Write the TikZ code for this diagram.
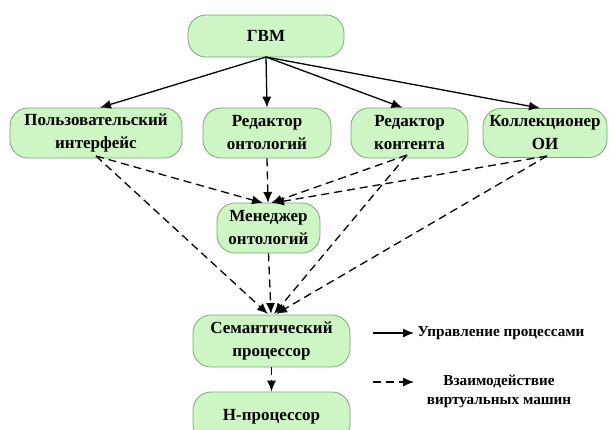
\documentclass[tikz,border=0pt]{standalone}
\usepackage{fontspec}
\setmainfont{Liberation Serif}
\usetikzlibrary{arrows.meta,calc}
\definecolor{boxfill}{RGB}{205,246,196}
\definecolor{boxline}{RGB}{125,165,120}
\tikzset{
  box/.style={draw=boxline, fill=boxfill, line width=0.8pt, rounded corners=18pt,
    align=center, inner sep=0pt, font=\fontsize{17}{23}\selectfont\bfseries},
  ctrl/.style={line width=1.3pt, -{Latex[length=11pt,width=9pt]}},
  inter/.style={line width=1.3pt, dash pattern=on 8pt off 5pt, -{Latex[length=11pt,width=9pt]}},
  legtext/.style={font=\fontsize{15.2}{19}\selectfont\bfseries, align=center, inner sep=0pt}
}
\begin{document}
\begin{tikzpicture}[x=1pt,y=-1pt]
\useasboundingbox (0,0) rectangle (609,429);
\node[box, minimum width=156pt, minimum height=42pt] (g) at (266,36) {ГВМ};
\node[box, minimum width=172pt, minimum height=50pt] (ui) at (96,133) {Пользовательский\\интерфейс};
\node[box, minimum width=128pt, minimum height=50pt] (ro) at (267,133) {Редактор\\онтологий};
\node[box, minimum width=117pt, minimum height=50pt] (rk) at (409.5,133) {Редактор\\контента};
\node[box, minimum width=124pt, minimum height=49pt] (ko) at (545,133) {Коллекционер\\ОИ};
\node[box, minimum width=103pt, minimum height=50pt] (mo) at (268.5,228) {Менеджер\\онтологий};
\node[box, minimum width=157pt, minimum height=52pt] (sp) at (271.5,341) {Семантический\\процессор};
\node[box, minimum width=157pt, minimum height=50pt] (hp) at (271.5,417) {Н-процессор};
\coordinate (gs) at (266,57);
\draw[ctrl] (gs) -- ([xshift=4pt]ui.north);
\draw[ctrl] (gs) -- (ro.north);
\draw[ctrl] (gs) -- ([xshift=-7pt]rk.north);
\draw[ctrl] (gs) -- ([xshift=-5pt]ko.north);
\coordinate (mt) at (268,203);
\coordinate (st) at (271,314);
\coordinate (uis) at (96,156);
\coordinate (rks) at (407,155);
\coordinate (kos) at (547,156);
\draw[inter] (uis) -- ([xshift=-5pt]mt);
\draw[inter] (ro.south) -- (mt);
\draw[inter] (rks) -- ([xshift=3pt]mt);
\draw[inter] (kos) -- ([xshift=5pt]mt);
\draw[inter] (uis) -- ([xshift=-3pt]st);
\draw[inter] (mo.south) -- (st);
\draw[inter] (rks) -- ([xshift=3pt]st);
\draw[inter] (kos) -- ([xshift=5pt]st);
\draw[inter] (sp.south) -- (hp.north);
\coordinate (l1a) at (373,333);
\coordinate (l1b) at (414,333);
\coordinate (l2a) at (373,382);
\coordinate (l2b) at (414,382);
\draw[ctrl] (l1a) -- (l1b);
\draw[inter] (l2a) -- (l2b);
\node[legtext] (lt1) at (501,333) {Управление процессами};
\node[legtext] (lt2) at (499,391) {Взаимодействие\\виртуальных машин};
\end{tikzpicture}
\end{document}
